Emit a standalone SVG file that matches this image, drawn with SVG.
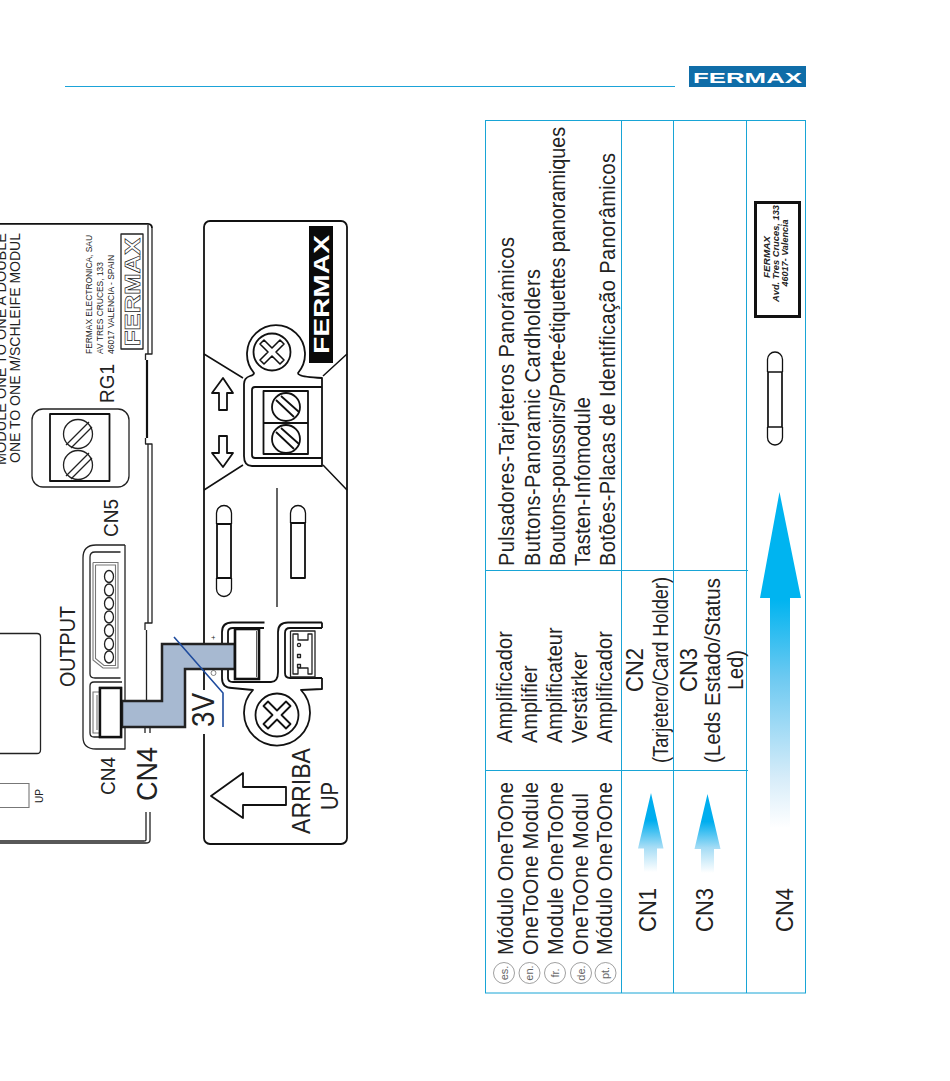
<svg xmlns="http://www.w3.org/2000/svg" width="950" height="1081" viewBox="0 0 950 1081">
<style>
text{font-family:"Liberation Sans",Arial,sans-serif;fill:#222}
.l{fill:none;stroke:#222;stroke-width:1.3;stroke-linejoin:round}
.g{fill:none;stroke:#777;stroke-width:1.100}
.t{fill:none;stroke:#111;stroke-width:1.800;stroke-linejoin:round}
.m{fill:none;stroke:#111;stroke-width:1.300;stroke-linejoin:round}
.b{fill:none;stroke:#18a5d6;stroke-width:1}
.f20{font-size:20px}
.f22{font-size:22px}
.f19{font-size:19px}
.sm{font-size:8.500px}
.bd{font-size:11px;fill:#666}
.lbl{font-size:9.400px;font-weight:bold;font-style:italic;text-anchor:middle}
</style>
<defs>
<linearGradient id="g1" x1="0" y1="0" x2="0" y2="1"><stop offset="0" stop-color="#00aeef"/><stop offset=".35" stop-color="#00aeef"/><stop offset=".68" stop-color="#a4dcf5"/><stop offset="1" stop-color="#fff"/></linearGradient>
<linearGradient id="g2" x1="0" y1="0" x2="0" y2="1"><stop offset="0" stop-color="#00b4f0"/><stop offset=".32" stop-color="#00b4f0"/><stop offset=".55" stop-color="#6cc9f1"/><stop offset=".85" stop-color="#d6ecf9"/><stop offset="1" stop-color="#fff"/></linearGradient>
</defs>
<rect width="950" height="1081" fill="#fff"/>

<g id="header">
<line x1="65" y1="86.500" x2="675" y2="86.500" stroke="#1ba3d8" stroke-width="1"/>
<rect x="689" y="66" width="117" height="21" fill="#0f6da8"/>
<text x="693" y="82.500" textLength="109" lengthAdjust="spacingAndGlyphs" font-size="15.500" font-weight="bold" style="fill:#fff">FERMAX</text>
</g>

<g id="board">
<path class="t" d="M0,223.800H148Q152,224 152,228"/>
<path class="l" d="M152,228V354H145.500V360M145.500,438V444H152V623H145V630M148,225V354M148,444V623M146.500,630V700M145,700V733M150,700V733M150,812V840Q150,843 146,843H0M146,812V840Q146,841 144,841H0"/>
<path d="M147,360V438" stroke="#111" stroke-width="2.200" fill="none"/>
<path class="l" d="M0,633.500H37Q40.500,633.500 40.500,637V750Q40.500,753.500 37,753.500H0"/>
<path class="g" d="M0,783.500H29V807.500H0"/>
<text transform="translate(43,803) rotate(-90)" font-size="10">UP</text>
<text transform="translate(6,465) rotate(-90)" font-size="15" textLength="232" lengthAdjust="spacingAndGlyphs">MODULE ONE TO ONE A DOUBLE</text>
<text transform="translate(19.500,463) rotate(-90)" font-size="15" textLength="230" lengthAdjust="spacingAndGlyphs">ONE TO ONE M/SCHLEIFE MODUL</text>
<text class="sm" transform="translate(92,354) rotate(-90)" textLength="119" lengthAdjust="spacingAndGlyphs">FERMAX ELECTRONICA, SAU</text>
<text class="sm" transform="translate(103,354) rotate(-90)" textLength="92" lengthAdjust="spacingAndGlyphs">AV TRES CRUCES, 133</text>
<text class="sm" transform="translate(114,354) rotate(-90)" textLength="99" lengthAdjust="spacingAndGlyphs">46017 VALENCIA - SPAIN</text>
<rect x="121" y="234" width="22" height="115" class="l"/>
<text transform="translate(139.500,346) rotate(-90) scale(1,1.100)" font-size="20" font-weight="bold" textLength="108" lengthAdjust="spacingAndGlyphs" style="fill:#fff;stroke:#222;stroke-width:.6">FERMAX</text>
</g>

<g id="RG1">
<rect x="32" y="409" width="97" height="78" rx="11" class="l"/>
<rect x="50" y="414" width="59.500" height="67" class="t"/>
<circle cx="78" cy="434" r="14.500" class="l"/>
<circle cx="78" cy="465" r="14.500" class="l"/>
<path class="l" d="M66,445L89,422M71,448L92,427M66,476L89,453M71,479L92,458"/>
<text class="f19" transform="translate(114,403) rotate(-90) scale(1,1.100)">RG1</text>
</g>

<g id="CN5">
<text class="f19" transform="translate(118,537) rotate(-90) scale(1,1.100)">CN5</text>
<path class="l" d="M125,545H96Q83,545 83,558V737Q83,749 96,749H125V545"/>
<path class="l" d="M120.500,552H95Q90,552 90,557V674Q90,678 95,678H120.500"/>
<path class="g" d="M93,562.500H118V668H103L93,660V562.500M95.500,565H115.500V665.500H104L95.500,658.500V565"/>
<g class="l"><ellipse cx="109" cy="576.500" rx="4.500" ry="6"/><ellipse cx="109" cy="590" rx="4.500" ry="6"/><ellipse cx="109" cy="603.500" rx="4.500" ry="6"/><ellipse cx="109" cy="617" rx="4.500" ry="6"/><ellipse cx="109" cy="630.500" rx="4.500" ry="6"/><ellipse cx="109" cy="644" rx="4.500" ry="6"/><ellipse cx="109" cy="657" rx="4.500" ry="6"/></g>
<text class="f20" transform="translate(75,687) rotate(-90) scale(1,1.100)" textLength="81" lengthAdjust="spacingAndGlyphs">OUTPUT</text>
</g>

<g id="CN4-left">
<path class="l" d="M122,682H94Q90,682 90,686V733Q90,737 94,737H122"/>
<path class="g" d="M100,692H93V733H100M97,695V730"/>
<rect x="100" y="688" width="21" height="49" fill="#fff" stroke="#111" stroke-width="2.400"/>
<text class="f19" transform="translate(115,795) rotate(-90) scale(1,1.100)">CN4</text>
<text transform="translate(157,801) rotate(-90) scale(1,1.100)" font-size="27">CN4</text>
</g>

<g id="panel">
<rect x="204" y="221" width="143" height="623" rx="6" class="t"/>
<path class="m" d="M204,354L243,378M347,354L323,376M204,490L243,465M347,490L323,465" style="stroke-width:1.500"/>
<rect x="309" y="226" width="24" height="137" fill="#0a0a0a"/>
<text transform="translate(329,354) rotate(-90)" font-size="22" font-weight="bold" textLength="119" lengthAdjust="spacingAndGlyphs" style="fill:#fff">FERMAX</text>
<path class="t" d="M300,375Q303,377 322,378V466H252Q244,466 244,456V384Q244,378 250,376Q254,375 254,373A29,29 0 1 1 298,373Q298,374.500 300,375"/>
<circle cx="272" cy="352" r="18.500" class="t"/>
<path class="m" transform="translate(272,352)" d="M0,-4L8,-12L12,-8L4,0L12,8L8,12L0,4L-8,12L-12,8L-4,0L-12,-8L-8,-12Z" style="stroke-width:1.600"/>
<path class="t" d="M322,387H255Q252,387 252,390V455Q252,458 255,458H322"/>
<rect x="263.500" y="391" width="44.500" height="63" class="t"/>
<line x1="263.500" y1="423" x2="308" y2="423" class="t"/>
<circle cx="286" cy="407" r="14" class="t"/>
<circle cx="286" cy="439" r="14" class="t"/>
<path class="t" d="M276,400L294,417M281,396L299,412M276,432L294,449M281,428L299,444"/>
<path class="t" d="M223,378L212,393H219V410H227V393H233Z"/>
<path class="t" d="M219,436H227V453H233L223,467L212,453H219Z"/>
<line x1="277" y1="488" x2="277" y2="607" class="m"/>
<path class="m" d="M216.500,524V513A7.500,7.500 0 0 1 231.500,513V524M216.500,578V589A7.500,7.500 0 0 0 231.500,589V578"/>
<rect x="217" y="524" width="14" height="54" class="t"/>
<path class="m" d="M290.500,523V513A7.500,7.500 0 0 1 305.500,513V523"/>
<rect x="291" y="523" width="14" height="55" class="t"/>
<path class="t" d="M264.500,622.500H232Q222,622.500 222,632V678Q222,688 232,688L253,690A33,33 0 1 0 301,690L322,689V678M322,628V622.500"/>
<path class="t" d="M264,628H233Q228,628 228,632V678Q228,682 233,682H271Q278,682 278,672V632Q278,622.500 288,622.500H322"/>
<circle cx="277" cy="715" r="21.500" class="t"/>
<path class="t" transform="translate(277,715)" d="M0,-4.500L9,-13.500L13.500,-9L4.500,0L13.500,9L9,13.500L0,4.500L-9,13.500L-13.500,9L-4.500,0L-13.500,-9L-9,-13.500Z"/>
<path class="t" d="M322,628H290Q285,628 285,633V673Q285,678 290,678H322"/>
<path class="l" d="M290.500,631H315V677H290.500V631M293,634H298V640H308V634H312V674H308V668H298V674H293Z"/>
<g class="l"><circle cx="299" cy="645" r="1.600"/><rect x="297.500" y="654.500" width="3" height="3"/><rect x="297.500" y="664.500" width="3" height="3"/></g>
<text transform="translate(216,640) rotate(-90)" font-size="8">+</text>
<circle cx="213.500" cy="673" r="2.500" fill="none" stroke="#555" stroke-width=".7"/>
<path class="t" d="M211,796L243,773V787H286V805H243V818Z"/>
<text transform="translate(310,834) rotate(-90) scale(1,1.100)" font-size="23" textLength="86" lengthAdjust="spacingAndGlyphs">ARRIBA</text>
<text transform="translate(338,810) rotate(-90) scale(1,1.100)" font-size="22" textLength="28" lengthAdjust="spacingAndGlyphs">UP</text>
</g>

<g id="connectors">
<rect x="198" y="690" width="18" height="44" fill="#fff"/>
<path d="M122,701H162V644H235V669H185V727H122Z" fill="#a7b9d1" stroke="#222" stroke-width="2.500"/>
<rect x="235" y="629" width="24" height="50" fill="#fff" stroke="#111" stroke-width="2.600"/>
<line x1="256.500" y1="631" x2="256.500" y2="677" stroke="#333" stroke-width=".8"/>
<rect x="100" y="688" width="21" height="49" fill="#fff" stroke="#111" stroke-width="2.400"/>
<path d="M174,637L223,693V727" fill="none" stroke="#1f4c9e" stroke-width="1.600"/>
<text transform="translate(214,727) rotate(-90) scale(1,1.100)" font-size="28">3V</text>
</g>

<g id="table">
<rect x="485.500" y="120.500" width="320" height="872.500" class="b"/>
<path class="b" d="M621.500,120V993M673.500,120V993M746.500,120V993M485.500,570.500H748M485.500,770.500H748"/>
</g>

<g id="col-module">
<text class="f20" transform="translate(513,955) rotate(-90) scale(1,1.100)" textLength="173">Módulo OneToOne</text>
<text class="f20" transform="translate(538,955) rotate(-90) scale(1,1.100)" textLength="173">OneToOne Module</text>
<text class="f20" transform="translate(563,955) rotate(-90) scale(1,1.100)" textLength="173">Module OneToOne</text>
<text class="f20" transform="translate(588,955) rotate(-90) scale(1,1.100)" textLength="162">OneToOne Modul</text>
<text class="f20" transform="translate(612,955) rotate(-90) scale(1,1.100)" textLength="173">Módulo OneToOne</text>
</g>
<g id="badges">
<g fill="#fff" stroke="#777" stroke-width=".7"><circle cx="504" cy="973" r="10.500"/><circle cx="529.500" cy="973" r="10.500"/><circle cx="555" cy="973" r="10.500"/><circle cx="581" cy="973" r="10.500"/><circle cx="605.500" cy="973" r="10.500"/></g>
<g text-anchor="middle"><text class="bd" transform="translate(507.500,973) rotate(-90)">es.</text><text class="bd" transform="translate(533,973) rotate(-90)">en.</text><text class="bd" transform="translate(558.500,973) rotate(-90)">fr.</text><text class="bd" transform="translate(584.500,973) rotate(-90)">de.</text><text class="bd" transform="translate(609,973) rotate(-90)">pt.</text></g>
</g>
<g id="col-amp">
<text class="f20" transform="translate(512,743) rotate(-90) scale(1,1.100)" textLength="112">Amplificador</text>
<text class="f20" transform="translate(537,743) rotate(-90) scale(1,1.100)">Amplifier</text>
<text class="f20" transform="translate(562,743) rotate(-90) scale(1,1.100)">Amplificateur</text>
<text class="f20" transform="translate(587,743) rotate(-90) scale(1,1.100)">Verstärker</text>
<text class="f20" transform="translate(612,743) rotate(-90) scale(1,1.100)" textLength="112">Amplificador</text>
</g>
<g id="col-buttons">
<text class="f20" transform="translate(514,566) rotate(-90) scale(1,1.100)" textLength="329">Pulsadores-Tarjeteros Panorámicos</text>
<text class="f20" transform="translate(540,566) rotate(-90) scale(1,1.100)" textLength="297">Buttons-Panoramic Cardholders</text>
<text class="f20" transform="translate(565,566) rotate(-90) scale(1,1.100)" textLength="439" lengthAdjust="spacingAndGlyphs">Boutons-poussoirs/Porte-étiquettes panoramiques</text>
<text class="f20" transform="translate(590,566) rotate(-90) scale(1,1.100)" textLength="169">Tasten-Infomodule</text>
<text class="f20" transform="translate(615,566) rotate(-90) scale(1,1.100)" textLength="413">Botões-Placas de Identificação Panorâmicos</text>
</g>
<g id="row-cn1">
<text class="f22" transform="translate(656,932) rotate(-90) scale(1,1.120)">CN1</text>
<path d="M651,793L663.500,848.500H657V872H644V848.500H638Z" fill="url(#g1)"/>
<text class="f22" transform="translate(643,692) rotate(-90) scale(1,1.120)">CN2</text>
<text class="f20" transform="translate(668,763) rotate(-90) scale(1,1.100)" textLength="186" lengthAdjust="spacingAndGlyphs">(Tarjetero/Card Holder)</text>
</g>
<g id="row-cn3">
<text class="f22" transform="translate(713,932) rotate(-90) scale(1,1.120)">CN3</text>
<path d="M707.500,794L720.500,849H714V873H701V849H694.500Z" fill="url(#g1)"/>
<text class="f22" transform="translate(697,692) rotate(-90) scale(1,1.120)">CN3</text>
<text class="f20" transform="translate(720,763) rotate(-90) scale(1,1.100)" textLength="185" lengthAdjust="spacingAndGlyphs">(Leds Estado/Status</text>
<text class="f20" transform="translate(743,690) rotate(-90) scale(1,1.100)">Led)</text>
</g>
<g id="row-cn4">
<text class="f22" transform="translate(793,932) rotate(-90) scale(1,1.120)">CN4</text>
<path d="M779.500,492L801,598H790V828H770V598H760Z" fill="url(#g2)"/>
<path class="m" d="M767.500,372V359.500A7.500,7.500 0 0 1 782.500,359.500V372M767.500,427V437.500A7.500,7.500 0 0 0 782.500,437.500V427"/>
<path d="M768,372H782V427H768Z" fill="none" stroke="#111" stroke-width="1.700"/>
<rect x="755.500" y="202.500" width="44" height="114" fill="#fff" stroke="#111" stroke-width="3"/>
<text class="lbl" transform="translate(770,257) rotate(-90)" textLength="42" lengthAdjust="spacingAndGlyphs">FERMAX</text>
<text class="lbl" transform="translate(779,253.500) rotate(-90)" textLength="97" lengthAdjust="spacingAndGlyphs">Avd. Tres Cruces, 133</text>
<text class="lbl" transform="translate(788,253) rotate(-90)" textLength="67" lengthAdjust="spacingAndGlyphs">46017- Valencia</text>
</g>
</svg>
